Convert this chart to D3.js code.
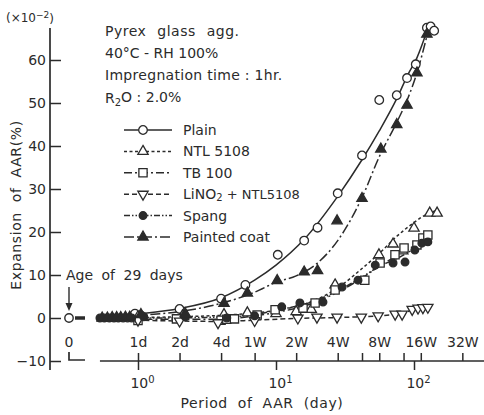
<!DOCTYPE html>
<html>
<head>
<meta charset="utf-8">
<script src="https://cdn.jsdelivr.net/npm/d3@7"></script>
<style>
body { margin: 0; background: #fff; }
text { font-family: "DejaVu Sans", sans-serif; fill: #2b2b2b; }
</style>
</head>
<body>
<div id="chart"></div>
<script>
// Dados: [dia, expansao (x10^-2 %)]
var plainPts = [[0.95,1.0],[1.05,0.6],[2,2.1],[4,4.5],[6,7.7],[10.3,14.7],[16,18],[20,21],[28,29],[42,37.8],[56,50.7],[75,51.8],[89,55.8],[103,59],[124,67.5],[132,67.8],[140,66.8]];
var ntlPts = [[1,0.3],[2.1,0.5],[4.2,0.8],[6.2,1.2],[10,1.0],[14,1.5],[18,2.0],[26.8,7.7],[55.7,14.7],[70.5,17.2],[83,15.6],[100,20.9],[130,24.4],[147,24.4]];
var tbPts = [[1,-0.6],[1.9,-0.2],[4,-0.5],[4.4,-0.3],[5,-0.2],[7.3,0.7],[9.85,1.9],[15.7,2.3],[19.2,3.5],[26.8,6.5],[44,8.8],[56.8,12.8],[72.8,14.7],[84.7,16.3],[105,17],[116,18.6],[126,19.3]];
var linoPts = [[1,-0.5],[2,-0.7],[3.8,-1.1],[7,-0.6],[14.4,0],[19.8,0.2],[27.7,0.2],[41.5,0.2],[55,0.5],[73,0.9],[82,0.9],[97,2.0],[107,2.3],[116,2.4],[126,2.5]];
var spangPts = [[0.53,0],[0.57,0],[0.62,0],[0.67,0],[0.72,0],[0.78,0],[0.84,0],[0.9,0],[1.1,0.3],[2.2,0.3],[4.4,0],[7,0.5],[11,2.6],[14.9,3.5],[21.9,3.7],[30.1,7.2],[39.3,8.8],[52.4,12.3],[70.5,12.8],[86.1,13],[101.4,15.8],[114,17.4],[126,17.7]];
var paintedPts = [[0.55,0],[0.6,0],[0.65,0.1],[0.7,0.1],[0.75,0.1],[0.81,0.2],[0.87,0.2],[1.05,0.8],[2.2,1.0],[4.2,3.4],[6.2,5.8],[10.2,8.7],[16,10.7],[20,11],[27.7,22.6],[42,27.8],[57.5,39.3],[75,45],[89,49.5],[105,57],[124,66]];

// Curvas ajustadas
var plainFit = [[0.5,0],[1,0.9],[2,2.2],[4,4.7],[7,8.8],[10,12.3],[16,18.3],[28,28.3],[42,36.8],[56,43.5],[75,51],[90,56.5],[105,60.5],[128,68]];
var ntlFit = [[0.5,0],[2,0.3],[5,0.8],[10,1.8],[16,3.2],[28,7],[42,11.5],[56,15],[75,19],[100,22.2],[114,23.5],[145,25]];
var tbFit = [[0.5,0],[1,-0.3],[4,-0.3],[7,0.5],[10,1.3],[16,2.8],[28,6],[42,9.3],[56,12],[75,14.5],[100,16.8],[128,19.2]];
var linoFit = [[0.5,0],[1,-0.5],[2,-0.7],[4,-0.8],[7,-0.5],[14,-0.1],[28,0.1],[42,0.3],[56,0.5],[75,0.9],[90,1.5],[100,2],[126,2.5]];
var spangFit = [[0.5,0],[1,0],[4,0.2],[7,0.8],[10,1.8],[16,3.2],[28,6.3],[42,9.5],[56,12],[75,13.8],[100,16],[126,17.8]];
var paintedFit = [[0.5,0],[1,0.6],[2,1.5],[4,3.4],[7,6],[10,8.3],[14,9.8],[20,12.8],[28,18],[42,28],[56,37.5],[75,45.5],[90,51],[105,57],[125,66]];

var seriesNames = ["Plain","NTL 5108","TB 100","LiNO2+NTL5108","Spang","Painted coat"];
var yTicks = [-10,0,10,20,30,40,50,60];
var dayTicks = [1,2,4,7,14,28,42,56,84,112,224];
var dayLabels = ["1d","2d","4d","1W","2W","4W","","8W","","16W","32W"];
var decadeTicks = [1,10,100];
var decadeExp = ["0","1","2"];
var ageZero = 0;

var w = 484, h = 415;
var ink = "#2b2b2b";

var svg = d3.select("#chart").append("svg")
	.attr("width", w).attr("height", h);

// Escalas
var x = d3.scaleLog().domain([1,100]).range([138,414]);
var y = d3.scaleLinear().domain([-10,60]).range([361,60]);
var x0 = x(Math.pow(10,-0.5)); // posicao do "0" (eixo quebrado)

// Eixo y
svg.append("line")
	.attr("x1",50).attr("x2",50).attr("y1",28).attr("y2",370)
	.attr("stroke",ink).attr("stroke-width",1.7);
var yAxis = d3.axisLeft(y).tickValues(yTicks).tickSizeInner(-11).tickSizeOuter(0).tickPadding(4);
var gy = svg.append("g").attr("transform","translate(50,0)").call(yAxis);
gy.select(".domain").remove();
gy.selectAll("line").attr("stroke",ink).attr("stroke-width",1.5);
gy.selectAll("text").attr("font-size","14px").attr("fill",ink).style("font-family","DejaVu Sans");

// Eixo x - linha
svg.append("line")
	.attr("x1",x(0.53)).attr("x2",w).attr("y1",y(-10)).attr("y2",y(-10))
	.attr("stroke",ink).attr("stroke-width",1.7);
svg.append("path")
	.attr("d","M"+x0+","+(y(-10)-9)+"V"+(y(-10)-1)+"H"+(x0+16))
	.attr("fill","none").attr("stroke",ink).attr("stroke-width",1.7);

// Ticks de dias (para cima)
var dayAxis = d3.axisTop(x).tickValues(dayTicks).tickSize(8).tickPadding(6)
	.tickFormat(function(d,i){ return dayLabels[i]; });
var gd = svg.append("g").attr("transform","translate(0,"+y(-10)+")").call(dayAxis);
gd.select(".domain").remove();
gd.selectAll("line").attr("stroke",ink).attr("stroke-width",1.5);
gd.selectAll("text").attr("font-size","14px").attr("fill",ink).style("font-family","DejaVu Sans");

// Ticks de decadas (para baixo)
var decAxis = d3.axisBottom(x).tickValues(decadeTicks).tickSize(9).tickPadding(8)
	.tickFormat(function(){ return ""; });
var gdec = svg.append("g").attr("transform","translate(0,"+y(-10)+")").call(decAxis);
gdec.select(".domain").remove();
gdec.selectAll("line").attr("stroke",ink).attr("stroke-width",1.5);
gdec.selectAll("text").each(function(d,i){
	var t = d3.select(this).attr("font-size","14px").attr("fill",ink).style("font-family","DejaVu Sans")
		.attr("dx","4px");
	t.append("tspan").text("10");
	t.append("tspan").attr("dy","-0.45em").attr("font-size","10px").text(decadeExp[i]);
});

// Rotulo "0"
svg.append("text").attr("x",x0).attr("y",y(-10)-14).attr("text-anchor","middle")
	.attr("font-size","14px").text("0");

// Titulos dos eixos
svg.append("text")
	.attr("transform","translate(21,205) rotate(-90)")
	.attr("text-anchor","middle").attr("font-size","14px")
	.attr("letter-spacing","0.6px").attr("word-spacing","5px")
	.text("Expansion of AAR(%)");
svg.append("text")
	.attr("x",262).attr("y",408).attr("text-anchor","middle")
	.attr("font-size","14px").attr("letter-spacing","0.6px").attr("word-spacing","5px")
	.text("Period of AAR (day)");
var unit = svg.append("text").attr("x",6).attr("y",22).attr("font-size","12px");
unit.append("tspan").text("(×10");
unit.append("tspan").attr("dy","-0.45em").attr("font-size","9px").text("−2");
unit.append("tspan").attr("dy","0.45em").text(")");

// Anotacoes
var notes = svg.append("g").attr("font-size","14px");
notes.append("text").attr("x",105).attr("y",36).attr("word-spacing","6px").attr("letter-spacing","0.5px").text("Pyrex glass agg.");
notes.append("text").attr("x",105).attr("y",58).text("40°C - RH 100%");
notes.append("text").attr("x",105).attr("y",80).attr("letter-spacing","0.3px").text("Impregnation time : 1hr.");
var r2o = notes.append("text").attr("x",105).attr("y",103);
r2o.append("tspan").text("R");
r2o.append("tspan").attr("font-size","10px").attr("dy","0.25em").text("2");
r2o.append("tspan").attr("dy","-0.25em").text("O : 2.0%");

svg.append("text").attr("x",66).attr("y",280).attr("font-size","14px")
	.attr("word-spacing","4px").text("Age of 29 days");
svg.append("line").attr("x1",x0).attr("x2",x0).attr("y1",287).attr("y2",306)
	.attr("stroke",ink).attr("stroke-width",1.4);
svg.append("path")
	.attr("d","M"+(x0-3.5)+",303L"+x0+",311L"+(x0+3.5)+",303Z").attr("fill",ink);

// Estilos das series
var series = [
	{pts:plainPts, fit:plainFit, sym:d3.symbolCircle, size:58, fill:"#fff", rot:0, dash:null},
	{pts:ntlPts, fit:ntlFit, sym:d3.symbolTriangle, size:46, fill:"#fff", rot:0, dash:"3,2.5"},
	{pts:tbPts, fit:tbFit, sym:d3.symbolSquare, size:68, fill:"#fff", rot:0, dash:"8,3,2,3"},
	{pts:linoPts, fit:linoFit, sym:d3.symbolTriangle, size:46, fill:"#fff", rot:180, dash:"5,3"},
	{pts:spangPts, fit:spangFit, sym:d3.symbolCircle, size:46, fill:ink, rot:0, dash:"6,2,1.5,2,1.5,2"},
	{pts:paintedPts, fit:paintedFit, sym:d3.symbolTriangle, size:46, fill:ink, rot:0, dash:"10,3,2,3"}
];

var line = d3.line()
	.x(function(d){ return x(d[0]); })
	.y(function(d){ return y(d[1]); })
	.curve(d3.curveMonotoneX);

// Curvas
series.forEach(function(s){
	svg.append("path").datum(s.fit)
		.attr("d",line).attr("fill","none")
		.attr("stroke",ink).attr("stroke-width",1.5)
		.attr("stroke-dasharray",s.dash);
});

// Ponto de idade 0 e trecho grosso
svg.append("line").attr("x1",x0+6).attr("x2",x0+16).attr("y1",y(ageZero)).attr("y2",y(ageZero))
	.attr("stroke",ink).attr("stroke-width",3.5);
svg.append("circle").attr("cx",x0).attr("cy",y(ageZero)).attr("r",4.2)
	.attr("fill","#fff").attr("stroke",ink).attr("stroke-width",1.4);

// Marcadores
series.forEach(function(s){
	var sym = d3.symbol().type(s.sym).size(s.size);
	svg.append("g").selectAll("path")
		.data(s.pts).enter().append("path")
		.attr("d",sym)
		.attr("transform",function(d){ return "translate("+x(d[0])+","+y(d[1])+") rotate("+s.rot+")"; })
		.attr("fill",s.fill).attr("stroke",ink).attr("stroke-width",1.3);
});

// Legenda
var leg = svg.append("g").attr("font-size","14px");
series.forEach(function(s,i){
	var ly = 130 + i*21.4;
	leg.append("line").attr("x1",124).attr("x2",172).attr("y1",ly).attr("y2",ly)
		.attr("stroke",ink).attr("stroke-width",1.5).attr("stroke-dasharray",s.dash);
	leg.append("path").attr("d",d3.symbol().type(s.sym).size(s.size))
		.attr("transform","translate(143,"+ly+") rotate("+s.rot+")")
		.attr("fill",s.fill).attr("stroke",ink).attr("stroke-width",1.3);
	var t = leg.append("text").attr("x",183).attr("y",ly+5);
	if (i === 3) {
		t.append("tspan").text("LiNO");
		t.append("tspan").attr("font-size","10px").attr("dy","0.2em").text("2");
		t.append("tspan").attr("dy","-0.2em").attr("font-size","13px").text(" + NTL5108");
	} else {
		t.text(seriesNames[i]);
	}
});
</script>
</body>
</html>
